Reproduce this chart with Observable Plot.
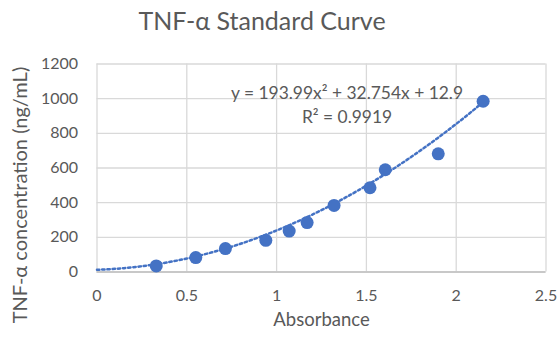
<!DOCTYPE html>
<html>
<head>
<meta charset="utf-8">
<script src="https://cdn.jsdelivr.net/npm/d3@7"></script>
<script src="https://cdn.jsdelivr.net/npm/@observablehq/plot@0.6"></script>
<style>
  html, body { margin: 0; padding: 0; background: #fff; }
  #wrap { width: 558px; height: 343px; position: relative; font-family: Lato, "Open Sans", sans-serif; }
  #title { height: 43px; line-height: 40px; font-size: 25px; color: #595959; text-align: center; width: 524px; }
  svg { display: block; }
</style>
</head>
<body>
<div id="wrap">
  <div id="title">TNF-α Standard Curve</div>
  <div id="chart"></div>
</div>
<script>
const absorbance = [0.33, 0.55, 0.715, 0.94, 1.07, 1.17, 1.32, 1.52, 1.605, 1.90, 2.15];
const concentration = [35, 83, 135, 183, 236, 285, 384, 486, 590, 682, 985];
const xTicks = [0, 0.5, 1, 1.5, 2, 2.5];
const yTicks = [0, 200, 400, 600, 800, 1000, 1200];
const trendCoef = [193.99, 32.754, 12.9]; // a, b, c of y = a x² + b x + c
const trendRange = [0, 2.15];
const equationLines = ["y = 193.99x² + 32.754x + 12.9", "R² = 0.9919"];

const points = absorbance.map((x, i) => ({x, y: concentration[i]}));
const trend = d3.range(0, 101).map(i => {
  const x = trendRange[0] + (trendRange[1] - trendRange[0]) * i / 100;
  return {x, y: trendCoef[0] * x * x + trendCoef[1] * x + trendCoef[2]};
});

const blue = "#4472C4";
const textGray = "#595959";
const fmt = d => String(d);

const chart = Plot.plot({
  width: 558,
  height: 300,
  marginLeft: 96.5,
  marginRight: 12.5,
  marginTop: 20.5,
  marginBottom: 71.5,
  style: {fontFamily: "Lato, 'Open Sans', sans-serif", fontSize: "16px", color: textGray, background: "#fff"},
  x: {domain: [0, 2.5], label: null},
  y: {domain: [0, 1200], label: null},
  marks: [
    Plot.gridX(xTicks, {stroke: "#d9d9d9", strokeOpacity: 1, strokeWidth: 1.3}),
    Plot.gridY(yTicks, {stroke: "#d9d9d9", strokeOpacity: 1, strokeWidth: 1.3}),
    Plot.ruleY([0], {stroke: "#bfbfbf", strokeWidth: 1.3}),
    Plot.axisX(xTicks, {tickSize: 0, tickPadding: 18, tickFormat: fmt, fontSize: 16, fill: textGray, label: null}),
    Plot.axisY(yTicks, {tickSize: 0, tickPadding: 19, tickFormat: fmt, fontSize: 16, fill: textGray, label: null}),
    Plot.text(["Absorbance"], {frameAnchor: "bottom", lineAnchor: "middle", dy: 48, fontSize: 18.5, fill: textGray}),
    Plot.text(["TNF-α concentration (ng/mL)"], {frameAnchor: "left", textAnchor: "middle", lineAnchor: "middle", dx: -76, dy: 27, rotate: -90, fontSize: 20, fill: textGray}),
    Plot.line(trend, {x: "x", y: "y", stroke: blue, strokeWidth: 2.5, strokeDasharray: "2.4,2.8"}),
    Plot.dot(points, {x: "x", y: "y", r: 6.5, fill: blue, stroke: blue, strokeWidth: 0}),
    Plot.text([equationLines[0]], {frameAnchor: "top", textAnchor: "middle", lineAnchor: "middle", dx: 25.5, dy: 29.5, fontSize: 17.4, fill: textGray}),
    Plot.text([equationLines[1]], {frameAnchor: "top", textAnchor: "middle", lineAnchor: "middle", dx: 25.5, dy: 53, fontSize: 17.4, fill: textGray})
  ]
});
document.getElementById("chart").appendChild(chart);
</script>
</body>
</html>
